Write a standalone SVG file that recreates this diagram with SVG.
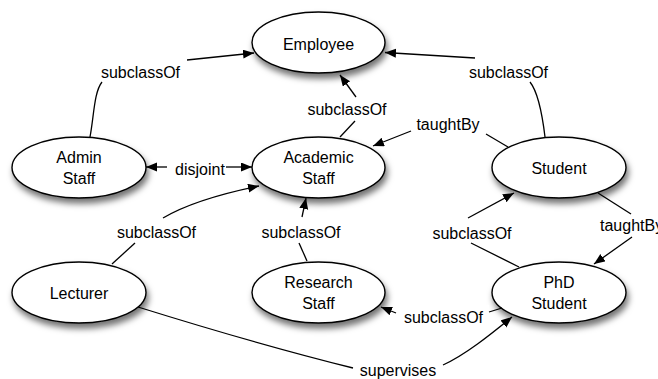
<svg xmlns="http://www.w3.org/2000/svg" width="658" height="379" viewBox="0 0 658 379">
<defs>
<filter id="sh" x="-20%" y="-30%" width="150%" height="180%">
<feDropShadow dx="2" dy="5" stdDeviation="3" flood-color="#000" flood-opacity="0.55"/>
</filter>
<marker id="ah" markerUnits="userSpaceOnUse" markerWidth="12" markerHeight="10" refX="11" refY="4.5" orient="auto">
<path d="M0,0 L11,4.5 L0,9 z" fill="#000"/>
</marker>
</defs>
<style>
.n ellipse{fill:#fff;stroke:#000;stroke-width:1.4;filter:url(#sh)}
.n text,.l{font-family:"Liberation Sans",Arial,sans-serif;font-size:16px;fill:#000;text-anchor:middle}
.c path{fill:none;stroke:#000;stroke-width:1.3}
.c path.a{marker-end:url(#ah)}
</style>
<rect width="658" height="379" fill="#fff"/>
<g id="employee" class="n"><ellipse cx="318.5" cy="42.5" rx="66.5" ry="30.5"/><text x="318.5" y="50">Employee</text></g>
<g id="admin-staff" class="n"><ellipse cx="79" cy="167.5" rx="67" ry="30.5"/><text x="79" y="163">Admin</text><text x="79" y="184">Staff</text></g>
<g id="academic-staff" class="n"><ellipse cx="318.5" cy="167.5" rx="66.5" ry="30.5"/><text x="318.5" y="163">Academic</text><text x="318.5" y="184">Staff</text></g>
<g id="student" class="n"><ellipse cx="559" cy="167.5" rx="67" ry="30.5"/><text x="559" y="174">Student</text></g>
<g id="lecturer" class="n"><ellipse cx="79" cy="292.5" rx="67" ry="30.5"/><text x="79" y="299">Lecturer</text></g>
<g id="research-staff" class="n"><ellipse cx="318.5" cy="292.5" rx="66.5" ry="30.5"/><text x="318.5" y="288">Research</text><text x="318.5" y="309">Staff</text></g>
<g id="phd-student" class="n"><ellipse cx="559" cy="292.5" rx="67" ry="30.5"/><text x="559" y="288">PhD</text><text x="559" y="309">Student</text></g>
<g id="connectors" class="c">
<path d="M90,137 C94,116 94,92 102,82"/>
<path class="a" d="M187,60 L254,53"/>
<path d="M340,137 L355,121"/>
<path class="a" d="M356,97 L340,75"/>
<path d="M545,137 C542,112 538,92 530,82"/>
<path class="a" d="M475,58 L385,52.5"/>
<path d="M508,147 L486,134"/>
<path class="a" d="M411,131 L373,146"/>
<path class="a" d="M167,167 L146,167"/>
<path class="a" d="M226,167 L252,167"/>
<path d="M112,264 L135,243"/>
<path class="a" d="M163,218 C185,205 215,195 259,186"/>
<path d="M307,261 L299,243"/>
<path class="a" d="M302,217 L306,198"/>
<path d="M519,267 L471,243"/>
<path class="a" d="M468,218 L514,193"/>
<path d="M598,193 L631,214"/>
<path class="a" d="M632,237 L594,264"/>
<rect x="401" y="305" width="88" height="22" fill="#fff"/>
<path d="M502,308 L489,312"/>
<path class="a" d="M396,313 L381,307"/>
<path d="M138,307 Q260,345 353,368"/>
<path class="a" d="M443,365 C465,355 490,335 512,317"/>
<text class="l" x="140.5" y="78">subclassOf</text>
<text class="l" x="347" y="115">subclassOf</text>
<text class="l" x="508.5" y="78">subclassOf</text>
<text class="l" x="448" y="130">taughtBy</text>
<text class="l" x="200" y="175">disjoint</text>
<text class="l" x="156.5" y="238">subclassOf</text>
<text class="l" x="301" y="238">subclassOf</text>
<text class="l" x="472" y="239">subclassOf</text>
<text class="l" x="600" y="231" style="text-anchor:start">taughtBy</text>
<text class="l" x="443.5" y="323">subclassOf</text>
<text class="l" x="398" y="376">supervises</text>
</g>
</svg>
